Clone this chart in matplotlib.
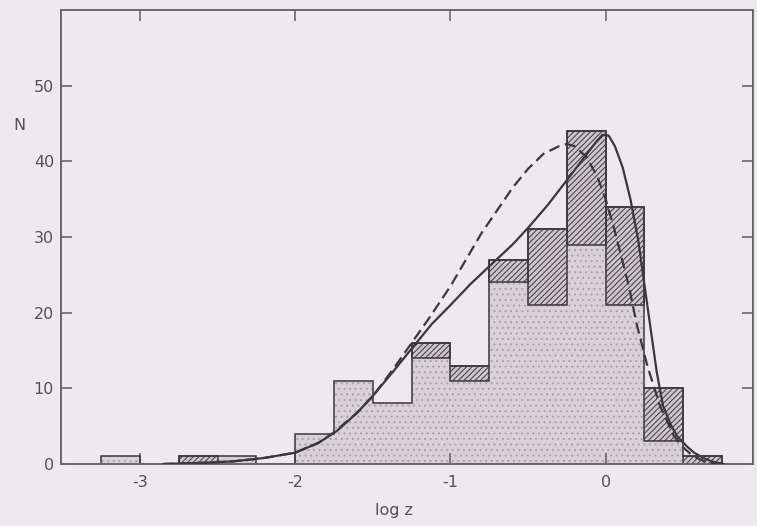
import numpy as np
import matplotlib
matplotlib.use("Agg")
import matplotlib.pyplot as plt

# ---- data ----
bin_left = [-3.25, -3.0, -2.75, -2.5, -2.25, -2.0, -1.75, -1.5, -1.25, -1.0,
            -0.75, -0.5, -0.25, 0.0, 0.25, 0.5]
bin_width = 0.25
total_counts = [1, 0, 1, 1, 0, 4, 11, 8, 16, 13, 27, 31, 44, 34, 10, 1]
stipple_counts = [1, 0, 0, 1, 0, 4, 11, 8, 14, 11, 24, 21, 29, 21, 3, 0]

solid_x = [-2.85, -2.6, -2.4, -2.2, -2.0, -1.85, -1.73, -1.6, -1.5, -1.37, -1.24,
           -1.12, -1.0, -0.87, -0.73, -0.6, -0.5, -0.37, -0.25, -0.12, -0.06, -0.02,
           0.02, 0.06, 0.11, 0.16, 0.21, 0.27, 0.33, 0.37, 0.42, 0.46, 0.52, 0.57,
           0.63, 0.69, 0.76]
solid_y = [0, 0.15, 0.35, 0.8, 1.5, 2.8, 4.4, 6.8, 9.0, 12.2, 15.5,
           18.5, 21.0, 23.8, 26.5, 29.0, 31.2, 34.3, 37.5, 41.0, 42.6, 43.5,
           43.4, 42.0, 39.2, 35.0, 29.6, 20.8, 12.1, 7.7, 5.2, 3.7, 2.4, 1.5,
           0.8, 0.3, 0]

dashed_x = [-2.85, -2.6, -2.4, -2.2, -2.0, -1.85, -1.75, -1.6, -1.5, -1.37, -1.25,
            -1.13, -1.0, -0.9, -0.8, -0.7, -0.6, -0.5, -0.4, -0.3, -0.25, -0.2,
            -0.12, -0.05, 0.0, 0.05, 0.1, 0.15, 0.2, 0.27, 0.35, 0.44, 0.5, 0.56,
            0.63, 0.72]
dashed_y = [0, 0.15, 0.35, 0.8, 1.5, 2.8, 4.2, 6.8, 9.0, 12.5, 16.0,
            19.5, 23.5, 27.0, 30.5, 33.5, 36.5, 39.0, 41.0, 42.0, 42.3, 42.0,
            40.5, 37.8, 35.0, 31.5, 27.5, 23.5, 18.5, 12.9, 7.7, 3.7, 2.2, 1.1,
            0.4, 0]

x_ticks = [-3, -2, -1, 0]
y_ticks = [0, 10, 20, 30, 40, 50]

# ---- style ----
bg = "#eee8ef"
ink = "#3a383b"
txt = "#545055"
plt.rcParams["font.family"] = ["DejaVu Sans"]
plt.rcParams["hatch.linewidth"] = 0.8

fig = plt.figure(figsize=(7.57, 5.26), dpi=100, facecolor=bg)
ax = fig.add_axes([61 / 757, 1 - 464 / 526, (753 - 61) / 757, (464 - 10) / 526])
ax.set_facecolor(bg)

left = np.array(bin_left)
total = np.array(total_counts, dtype=float)
stip = np.array(stipple_counts, dtype=float)
hatch_h = total - stip

# stippled lower part
ax.bar(left, stip, width=bin_width, align="edge", facecolor="#d8d1d8",
       edgecolor="#aaa3ab", hatch="...", linewidth=0, zorder=1)
# hatched upper part
ax.bar(left, hatch_h, bottom=stip, width=bin_width, align="edge",
       facecolor="#cec7ce", edgecolor="#4a474b", hatch="//////", linewidth=0, zorder=1)
# outlines of hatched parts
mask = hatch_h > 0
ax.bar(left[mask], hatch_h[mask], bottom=stip[mask], width=bin_width, align="edge",
       fill=False, edgecolor=ink, linewidth=1.1, zorder=2)
# histogram outline
edges = np.append(left, left[-1] + bin_width)
ax.stairs(total, edges, baseline=0, fill=False, color=ink, linewidth=1.1, zorder=2)

# curves
ax.plot(solid_x, solid_y, color=ink, linewidth=1.6, zorder=3)
ax.plot(dashed_x, dashed_y, color=ink, linewidth=1.6, linestyle=(0, (5, 2.5)), zorder=3)

ax.set_xlim(-3.51, 0.95)
ax.set_ylim(0, 60)
ax.set_xticks(x_ticks)
ax.set_xticklabels(["-3", "-2", "-1", "0"])
ax.set_yticks(y_ticks)
ax.tick_params(direction="in", length=8, width=1.2, color="#6a666b",
               labelsize=11.5, labelcolor=txt, top=True, right=True)
ax.tick_params(axis="x", pad=8)
ax.tick_params(axis="y", pad=5)
for s in ax.spines.values():
    s.set_color("#6a666b")
    s.set_linewidth(1.4)

fig.text(19 / 757, 1 - 126 / 526, "N", ha="center", va="center", fontsize=11.5, color=txt)
fig.text(394 / 757, 1 - 511 / 526, "log z", ha="center", va="center", fontsize=11.5, color=txt)

fig.savefig("out.png", dpi=100, facecolor=bg)
